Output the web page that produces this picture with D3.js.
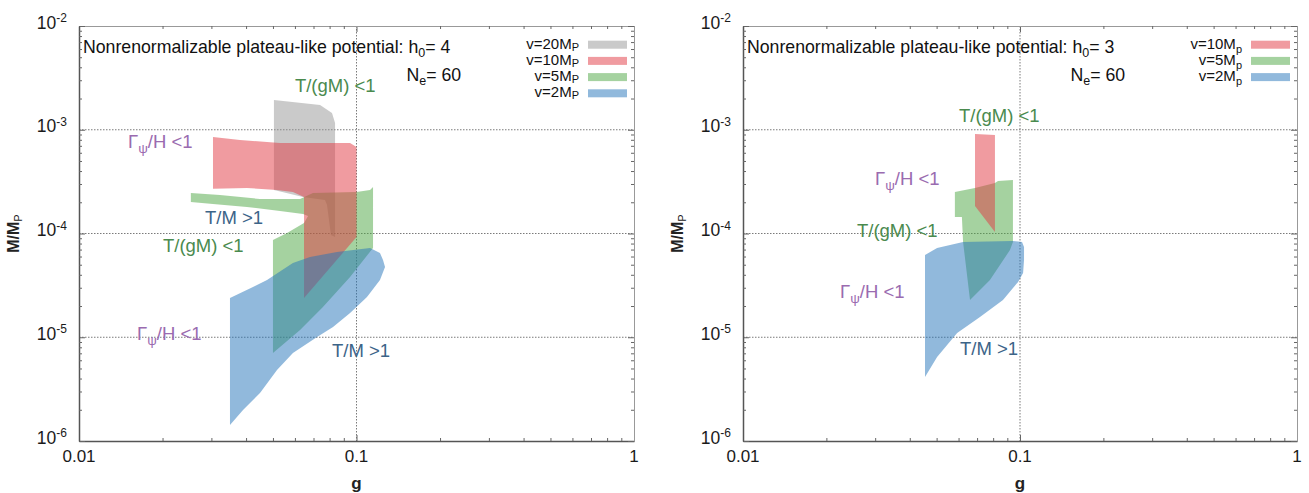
<!DOCTYPE html>
<html><head><meta charset="utf-8">
<script src="https://cdn.jsdelivr.net/npm/d3@7"></script>
<style>
body{margin:0;background:#fff}
svg{display:block}
text{font-family:"Liberation Sans",Arial,Helvetica,sans-serif}
</style>
</head><body>
<svg id="chart" width="1309" height="493"></svg>
<script>
// ---------------- data (g, M/M_P) ----------------
const xTickValues = [0.01, 0.1, 1];
const xTickLabels = ["0.01", "0.1", "1"];
const yTickExponents = [-6, -5, -4, -3, -2];
const gridX = [0.1];
const gridY = [1e-5, 1e-4, 1e-3];

// Left panel (h0 = 4)
const leftV20 = [[0.0504,1.935e-3],[0.0739,1.733e-3],[0.0816,1.45e-3],[0.0837,1.162e-3],[0.0837,9.25e-5],[0.0809,9.67e-5],[0.0783,1.883e-4],[0.0770,2.103e-4],[0.0642,2.248e-4],[0.0504,2.627e-4]];
const leftV10 = [[0.0304,8.51e-4],[0.0380,7.96e-4],[0.0530,7.45e-4],[0.0721,7.45e-4],[0.0948,7.45e-4],[0.1,6.82e-4],[0.1,9.25e-5],[0.0647,2.39e-5],[0.0647,2.248e-4],[0.0590,2.512e-4],[0.0517,2.627e-4],[0.0403,2.746e-4],[0.0304,2.70e-4]];
const leftV5 = [[0.0253,2.457e-4],[0.0322,2.35e-4],[0.0449,2.15e-4],[0.0626,2.15e-4],[0.0697,2.457e-4],[0.1,2.512e-4],[0.1119,2.627e-4],[0.1147,2.807e-4],[0.1147,7.25e-5],[0.0948,3.81e-5],[0.0757,1.957e-5],[0.0626,1.175e-5],[0.05,7.05e-6],[0.05,8.66e-5],[0.0562,1.011e-4],[0.0647,1.262e-4],[0.0669,1.475e-4],[0.0642,1.542e-4],[0.0530,1.648e-4],[0.0403,1.801e-4],[0.0304,1.924e-4],[0.0253,2.012e-4]];
const leftV2 = [[0.035,2.39e-5],[0.04236,3.05e-5],[0.04759,3.56e-5],[0.0590,5.20e-5],[0.0680,5.94e-5],[0.0851,6.63e-5],[0.1119,7.25e-5],[0.1215,6.49e-5],[0.1246,5.55e-5],[0.1267,4.75e-5],[0.1215,3.56e-5],[0.1091,2.44e-5],[0.0948,1.713e-5],[0.0823,1.256e-5],[0.0721,1.006e-5],[0.0590,7.05e-6],[0.0517,4.83e-6],[0.0449,2.90e-6],[0.0390,1.99e-6],[0.035,1.426e-6]];

// Right panel (h0 = 3)
const rightV10 = [[0.0688,9.10e-4],[0.0812,8.90e-4],[0.0812,1.034e-4],[0.0688,1.841e-4]];
const rightV5 = [[0.0582,2.512e-4],[0.0688,2.746e-4],[0.0812,3.067e-4],[0.0833,3.206e-4],[0.0943,3.279e-4],[0.0943,8.28e-5],[0.0920,6.93e-5],[0.0779,3.56e-5],[0.0660,2.286e-5],[0.0623,8.28e-5],[0.0617,1.442e-4],[0.0582,1.442e-4]];
const rightV2 = [[0.0454,6.20e-5],[0.0502,7.25e-5],[0.0623,8.28e-5],[0.0943,8.47e-5],[0.1017,8.28e-5],[0.1034,7.41e-5],[0.1034,5.55e-5],[0.1026,4.16e-5],[0.0984,3.41e-5],[0.0868,2.286e-5],[0.0717,1.567e-5],[0.0593,1.099e-5],[0.0502,6.45e-6],[0.0454,4.14e-6]];

// legend entries
const leftLegend = ["20", "10", "5", "2"];
const rightLegend = ["10", "5", "2"];

// annotation labels: [kind, g, M]
const leftLabels = [["tgm",0.0600,2.312e-3],["gam",0.01502,6.67e-4],["tm",0.02845,1.235e-4],["tgm",0.02007,6.63e-5],["gam",0.01618,9.41e-6],["tm",0.0816,6.45e-6]];
const rightLabels = [["tgm",0.0602,1.188e-3],["gam",0.02995,2.935e-4],["tgm",0.02579,9.25e-5],["gam",0.02240,2.39e-5],["tm",0.0607,6.74e-6]];

// ---------------- styles ----------------
const fills = {"20":"#969696","10":"#e13741","5":"#4ba541","2":"#2373b9"};
const fillOpacity = 0.5;
const labelColors = {tgm:"#4a8a4e", gam:"#9a6bb0", tm:"#3c6488"};

const svg = d3.select("#chart");
const yTop = 26, yBottom = 441;

// regions listed in drawing order (later ones on top)
const panels = [
  {left:79, right:634, h0:"4", regions:[["20",leftV20],["5",leftV5],["10",leftV10],["2",leftV2]], legend:leftLegend, labels:leftLabels, sub:"P", subDy:2},
  {left:743, right:1297, h0:"3", regions:[["5",rightV5],["10",rightV10],["2",rightV2]], legend:rightLegend, labels:rightLabels, sub:"p", subDy:4}
];

panels.forEach(p => {
  const x = d3.scaleLog().domain([0.01, 1]).range([p.left, p.right]);
  const y = d3.scaleLog().domain([1e-6, 1e-2]).range([yBottom, yTop]);
  const g = svg.append("g");

  // grid
  g.selectAll(null).data(gridY).enter().append("line")
    .attr("x1", p.left).attr("x2", p.right).attr("y1", d=>y(d)).attr("y2", d=>y(d))
    .attr("stroke", "#7a7a7a").attr("stroke-width", 1).attr("stroke-dasharray", "1.5,1.5");
  g.selectAll(null).data(gridX).enter().append("line")
    .attr("y1", yTop).attr("y2", yBottom).attr("x1", d=>x(d)).attr("x2", d=>x(d))
    .attr("stroke", "#7a7a7a").attr("stroke-width", 1).attr("stroke-dasharray", "1.5,1.5");

  // regions
  const line = d3.line().x(d=>x(d[0])).y(d=>y(d[1])).curve(d3.curveLinearClosed);
  p.regions.forEach(([v, pts]) => {
    g.append("path").attr("d", line(pts)).attr("fill", fills[v]).attr("fill-opacity", fillOpacity).attr("stroke", "none");
  });

  // axes (inside ticks)
  const minorX = [], minorY = [];
  for (let e = -2; e < 0; e++) for (let k = 2; k <= 9; k++) minorX.push(k * Math.pow(10, e));
  for (let e = -6; e < -2; e++) for (let k = 2; k <= 9; k++) minorY.push(k * Math.pow(10, e));
  const majorY = yTickExponents.map(e => Math.pow(10, e));

  const axStyle = sel => { sel.selectAll("path").attr("stroke", "#555"); sel.selectAll("line").attr("stroke", "#666"); sel.selectAll("text").remove(); };
  g.append("g").attr("transform", `translate(0,${yBottom})`).call(d3.axisBottom(x).tickValues(xTickValues).tickSize(-6).tickSizeOuter(0)).call(axStyle).selectAll("path").attr("stroke-width",1.5);
  g.append("g").attr("transform", `translate(0,${yBottom})`).call(d3.axisBottom(x).tickValues(minorX).tickSize(-3).tickSizeOuter(0)).call(axStyle);
  g.append("g").attr("transform", `translate(0,${yTop})`).call(d3.axisTop(x).tickValues(xTickValues).tickSize(-6).tickSizeOuter(0)).call(axStyle).selectAll("path").attr("stroke","#999");
  g.append("g").attr("transform", `translate(0,${yTop})`).call(d3.axisTop(x).tickValues(minorX).tickSize(-3).tickSizeOuter(0)).call(axStyle).selectAll("path").attr("stroke","#999");
  g.append("g").attr("transform", `translate(${p.left},0)`).call(d3.axisLeft(y).tickValues(majorY).tickSize(-6).tickSizeOuter(0)).call(axStyle).selectAll("path").attr("stroke-width",1.5);
  g.append("g").attr("transform", `translate(${p.left},0)`).call(d3.axisLeft(y).tickValues(minorY).tickSize(-3).tickSizeOuter(0)).call(axStyle);
  g.append("g").attr("transform", `translate(${p.right},0)`).call(d3.axisRight(y).tickValues(majorY).tickSize(-6).tickSizeOuter(0)).call(axStyle).selectAll("path").attr("stroke","#999");
  g.append("g").attr("transform", `translate(${p.right},0)`).call(d3.axisRight(y).tickValues(minorY).tickSize(-3).tickSizeOuter(0)).call(axStyle).selectAll("path").attr("stroke","#999");

  // x tick labels
  g.selectAll(null).data(xTickValues).enter().append("text")
    .attr("x", d=>x(d)).attr("y", 462).attr("text-anchor", "middle")
    .attr("font-size", 17).attr("fill", "#1a1a1a").text((d,i)=>xTickLabels[i]);
  // y tick labels
  yTickExponents.forEach(e => {
    const t = g.append("text").attr("x", p.left - 12).attr("y", y(Math.pow(10, e)) + 2.5)
      .attr("text-anchor", "end").attr("font-size", 17.5).attr("fill", "#1a1a1a");
    t.append("tspan").text("10");
    t.append("tspan").attr("font-size", 12).attr("dy", -6.5).text(String(e));
  });

  // axis titles
  g.append("text").attr("x", (p.left + p.right) / 2).attr("y", 489).attr("text-anchor", "middle")
    .attr("font-size", 17).attr("font-weight", "bold").attr("fill", "#222").text("g");
  const yl = g.append("text").attr("transform", `translate(${p.left - 60},${(yTop + yBottom) / 2}) rotate(-90)`)
    .attr("text-anchor", "middle").attr("font-size", 16).attr("font-weight", "bold").attr("fill", "#222");
  yl.append("tspan").text("M/M");
  yl.append("tspan").attr("font-size", 11).attr("font-weight", "normal").attr("dy", 3).text("P");

  // title
  const tt = g.append("text").attr("x", p.left + 4).attr("y", 52.5).attr("font-size", 17.7).attr("fill", "#111");
  tt.append("tspan").text("Nonrenormalizable plateau-like potential: h");
  tt.append("tspan").attr("font-size", 12.5).attr("dy", 4).text("0");
  tt.append("tspan").attr("dy", -4).text("= " + p.h0);
  const nt = g.append("text").attr("x", p.left + 327.5).attr("y", 80.5).attr("font-size", 17.7).attr("fill", "#111");
  nt.append("tspan").text("N");
  nt.append("tspan").attr("font-size", 12.5).attr("dy", 4).text("e");
  nt.append("tspan").attr("dy", -4).text("= 60");

  // legend
  p.legend.forEach((v, i) => {
    const yb = 48.7 + i * 16.2;
    const lt = g.append("text").attr("x", p.right - 55).attr("y", yb).attr("text-anchor", "end")
      .attr("font-size", 15).attr("fill", "#111");
    lt.append("tspan").text("v=" + v + "M");
    lt.append("tspan").attr("font-size", 11).attr("dy", p.subDy).text(p.sub);
    g.append("rect").attr("x", p.right - 46).attr("y", yb - 8).attr("width", 39).attr("height", 8)
      .attr("fill", fills[v]).attr("fill-opacity", fillOpacity);
  });

  // annotations
  p.labels.forEach(([kind, gv, mv]) => {
    const t = g.append("text").attr("x", x(gv)).attr("y", y(mv)).attr("font-size", 18.5).attr("fill", labelColors[kind]);
    if (kind === "tgm") t.text("T/(gM) <1");
    else if (kind === "tm") t.text("T/M >1");
    else {
      t.append("tspan").text("\u0393");
      t.append("tspan").attr("font-size", 13.5).attr("dy", 5).text("\u03c8");
      t.append("tspan").attr("dy", -5).text("/H <1");
    }
  });
});
</script>
</body></html>
